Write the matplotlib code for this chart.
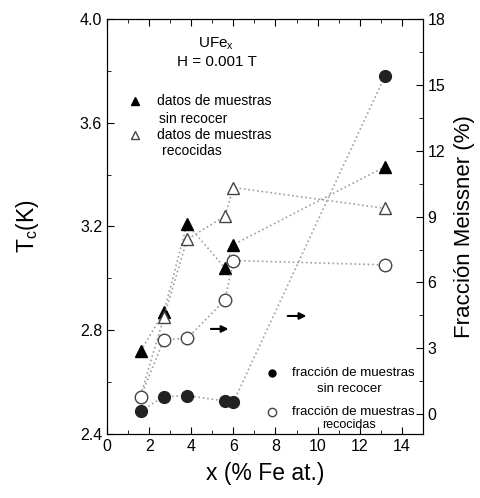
import matplotlib.pyplot as plt
from matplotlib.ticker import MultipleLocator

plt.rcParams['font.family'] = ['Liberation Sans', 'DejaVu Sans']

# x composition (% Fe at.)
x = [1.6, 2.7, 3.8, 5.6, 6.0, 13.2]

# Tc (K)
tc_sin = [2.72, 2.87, 3.21, 3.04, 3.13, 3.43]
tc_rec = [2.55, 2.85, 3.15, 3.24, 3.35, 3.27]

# Meissner fraction (%)
frac_sin = [0.15, 0.8, 0.85, 0.6, 0.55, 15.4]
frac_rec = [0.8, 3.4, 3.45, 5.2, 7.0, 6.8]

fig = plt.figure(figsize=(4.8, 4.98), dpi=100)
ax = fig.add_axes([0.223, 0.1285, 0.658, 0.8335])
ax2 = ax.twinx()

line_kw = dict(color='#a0a0a0', linestyle=':', linewidth=1.2)

ax.plot(x, tc_sin, marker='^', markersize=8, markerfacecolor='black',
        markeredgecolor='black', **line_kw)
ax.plot(x, tc_rec, marker='^', markersize=8.5, markerfacecolor='white',
        markeredgecolor='#444444', markevery=[1, 2, 3, 4, 5], **line_kw)

ax2.plot(x, frac_sin, marker='o', markersize=8.5, markerfacecolor='#222222',
         markeredgecolor='#222222', **line_kw)
ax2.plot(x, frac_rec, marker='o', markersize=9, markerfacecolor='white',
         markeredgecolor='#444444', **line_kw)

ax.set_xlim(0, 15)
ax.set_ylim(2.4, 4.0)
ax2.set_ylim(-0.9, 18)

ax.xaxis.set_major_locator(MultipleLocator(2))
ax.xaxis.set_minor_locator(MultipleLocator(1))
ax.yaxis.set_major_locator(MultipleLocator(0.4))
ax.yaxis.set_minor_locator(MultipleLocator(0.2))
ax2.yaxis.set_major_locator(MultipleLocator(3))
ax2.yaxis.set_minor_locator(MultipleLocator(1.5))

ax.tick_params(which='both', direction='in', top=True, labelsize=11.5)
ax.tick_params(which='major', length=5)
ax.tick_params(which='minor', length=3)
ax2.tick_params(which='both', direction='in', labelsize=11.5)
ax2.tick_params(which='major', length=5)
ax2.tick_params(which='minor', length=3)
ax.yaxis.set_major_formatter(plt.FormatStrFormatter('%.1f'))

ax.set_xlabel('x (% Fe at.)', fontsize=16.5, labelpad=6)
ax.set_ylabel(r'T$_\mathregular{c}$(K)', fontsize=16.5, labelpad=28)
ax2.set_ylabel('Fracción Meissner (%)', fontsize=16, labelpad=6)

# annotations
ax.text(5.2, 3.906, r'UFe$_\mathregular{x}$', ha='center', va='center', fontsize=11)
ax.text(5.2, 3.833, 'H = 0.001 T', ha='center', va='center', fontsize=11)

ax.plot([1.33], [3.682], marker='^', color='black', markersize=6, linestyle='none')
ax.text(2.37, 3.682, 'datos de muestras', ha='left', va='center', fontsize=10)
ax.text(2.47, 3.616, 'sin recocer', ha='left', va='center', fontsize=10)
ax.plot([1.33], [3.554], marker='^', markerfacecolor='white', markeredgecolor='#444444',
        markersize=6, linestyle='none')
ax.text(2.37, 3.554, 'datos de muestras', ha='left', va='center', fontsize=10)
ax.text(2.6, 3.489, 'recocidas', ha='left', va='center', fontsize=10)

ax.plot([7.85], [2.636], marker='o', color='black', markersize=5, linestyle='none')
ax.text(8.8, 2.636, 'fracción de muestras', ha='left', va='center', fontsize=9.5)
ax.text(11.5, 2.574, 'sin recocer', ha='center', va='center', fontsize=9.5)
ax.plot([7.85], [2.485], marker='o', markerfacecolor='white', markeredgecolor='#444444',
        markersize=6, linestyle='none')
ax.text(8.8, 2.485, 'fracción de muestras', ha='left', va='center', fontsize=9.5)
ax.text(11.5, 2.434, 'recocidas', ha='center', va='center', fontsize=9)

arrow_kw = dict(arrowstyle='-|>', color='black', lw=1.5, mutation_scale=10)
ax.annotate('', xy=(5.9, 2.805), xytext=(4.8, 2.805), arrowprops=arrow_kw)
ax.annotate('', xy=(9.6, 2.855), xytext=(8.45, 2.855), arrowprops=arrow_kw)

plt.savefig('out.png', dpi=100)
